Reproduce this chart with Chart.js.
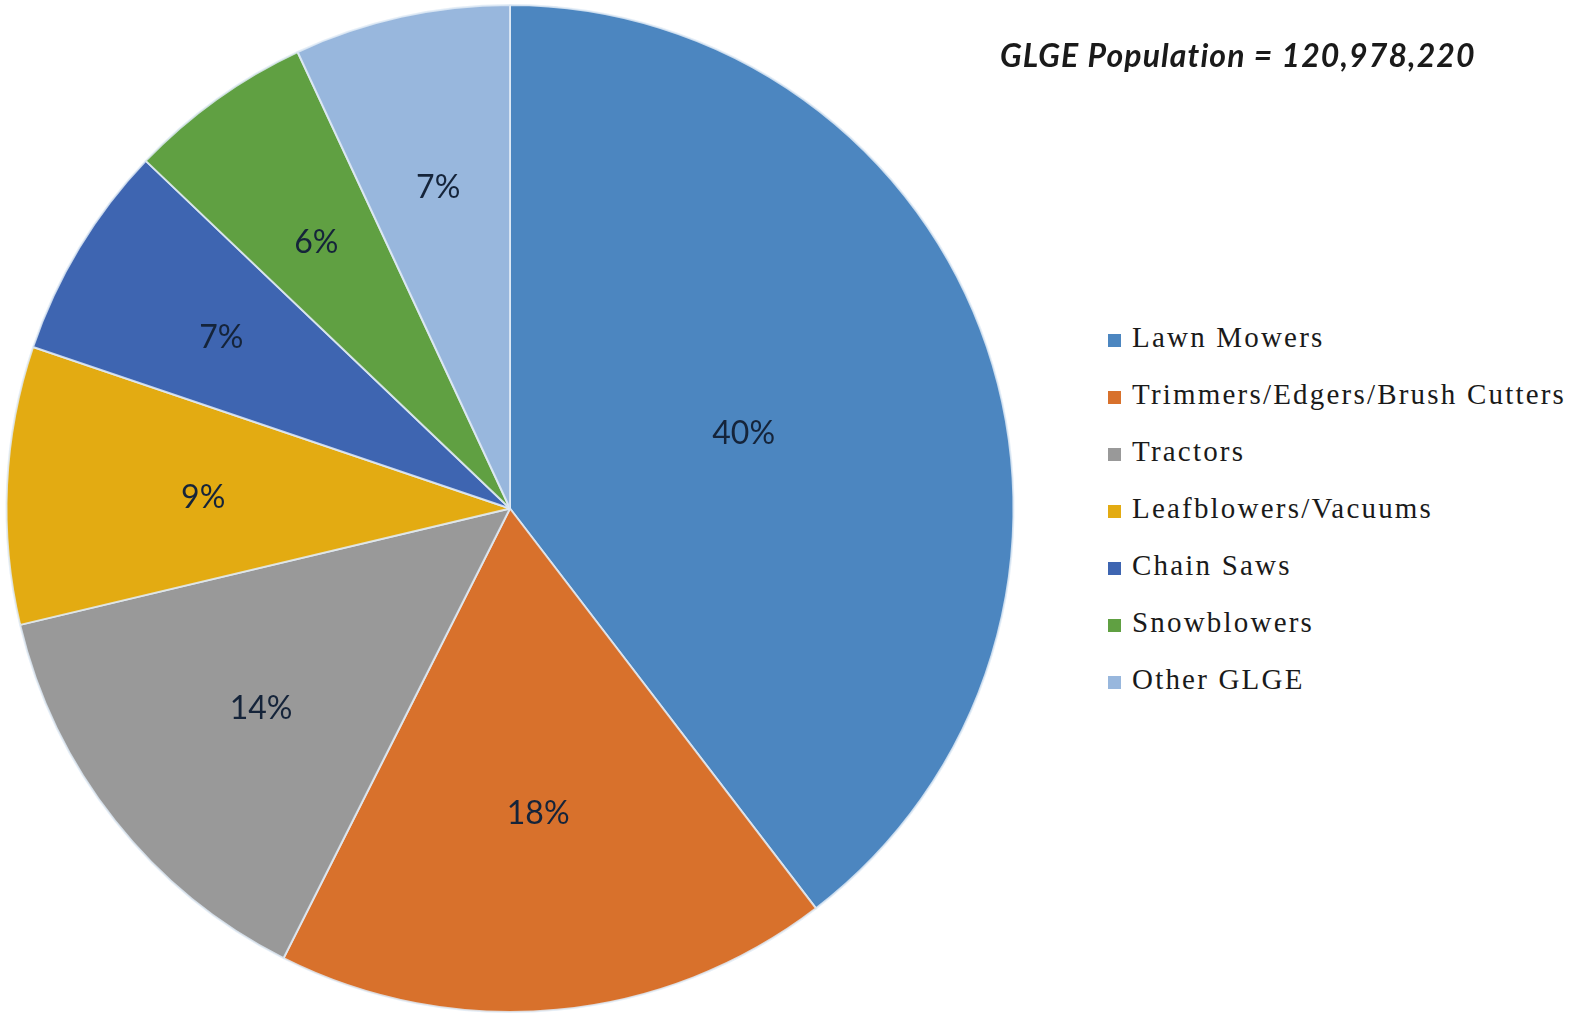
<!DOCTYPE html>
<html>
<head>
<meta charset="utf-8">
<script src="https://cdn.jsdelivr.net/npm/chart.js@4/dist/chart.umd.min.js"></script>
<style>
  html, body { margin: 0; padding: 0; background: #ffffff; }
  body { width: 1572px; height: 1017px; position: relative; overflow: hidden; }
  #pieWrap { position: absolute; left: 0; top: 0; width: 1020px; height: 1017px; }
  #title {
    position: absolute; left: 1000px; top: 35px;
    font-family: Lato, "Liberation Sans", sans-serif; font-weight: bold; font-style: italic;
    font-size: 32px; color: #1a1a1a; white-space: nowrap; letter-spacing: 1.1px;
  }
  #legend { position: absolute; left: 1108px; top: 321px; }
  .item { height: 57px; display: flex; align-items: flex-start; white-space: nowrap;
    font-family: "Liberation Serif", "DejaVu Serif", serif; font-size: 29px; color: #1a1a1a;
    letter-spacing: 2.2px; }
  .box { width: 13px; height: 13px; margin-right: 11px; margin-top: 13px; flex: none; }
</style>
</head>
<body>
<div id="pieWrap"><canvas id="pie"></canvas></div>
<div id="title">GLGE Population = 120,978,220</div>
<div id="legend"></div>
<script>
// Equipment categories and their share of the GLGE population (percent)
const categories = ["Lawn Mowers", "Trimmers/Edgers/Brush Cutters", "Tractors",
  "Leafblowers/Vacuums", "Chain Saws", "Snowblowers", "Other GLGE"];
const shares = [40, 18, 14, 9, 7, 6, 7];
const colors = ["#4c86c0", "#d8712c", "#999999", "#e3ab12", "#3e65b1", "#60a042", "#98b7dd"];
const titleText = "GLGE Population = 120,978,220";

// Radial placement of each percentage label (fraction of the radius)
const labelRadius = [0.49, 0.6, 0.63, 0.61, 0.67, 0.66, 0.66];

const sliceLabels = {
  id: "sliceLabels",
  afterDatasetsDraw(chart) {
    const ctx = chart.ctx;
    const meta = chart.getDatasetMeta(0);
    const data = chart.data.datasets[0].data;
    ctx.save();
    ctx.font = "32px Lato, 'Liberation Sans', sans-serif";
    ctx.fillStyle = "#15243a";
    ctx.textAlign = "center";
    ctx.textBaseline = "middle";
    meta.data.forEach((arc, i) => {
      const p = arc.getProps(["x", "y", "startAngle", "endAngle", "outerRadius"], true);
      const mid = (p.startAngle + p.endAngle) / 2;
      const r = p.outerRadius * labelRadius[i];
      ctx.fillText(data[i] + "%", p.x + Math.cos(mid) * r, p.y + Math.sin(mid) * r + 4);
    });
    ctx.restore();
  }
};

new Chart(document.getElementById("pie"), {
  type: "pie",
  data: {
    labels: categories,
    datasets: [{
      data: shares,
      backgroundColor: colors,
      borderColor: "rgba(225,235,246,0.85)",
      borderWidth: 2
    }]
  },
  options: {
    responsive: true,
    maintainAspectRatio: false,
    animation: false,
    layout: { padding: { top: 4, bottom: 4, left: 0, right: 0 } },
    plugins: {
      legend: { display: false },
      tooltip: { enabled: false }
    }
  },
  plugins: [sliceLabels]
});

// Legend list beside the pie
const legend = document.getElementById("legend");
categories.forEach((name, i) => {
  const row = document.createElement("div");
  row.className = "item";
  const box = document.createElement("span");
  box.className = "box";
  box.style.background = colors[i];
  const txt = document.createElement("span");
  txt.textContent = name;
  row.appendChild(box);
  row.appendChild(txt);
  legend.appendChild(row);
});
document.getElementById("title").textContent = titleText;
</script>
</body>
</html>
